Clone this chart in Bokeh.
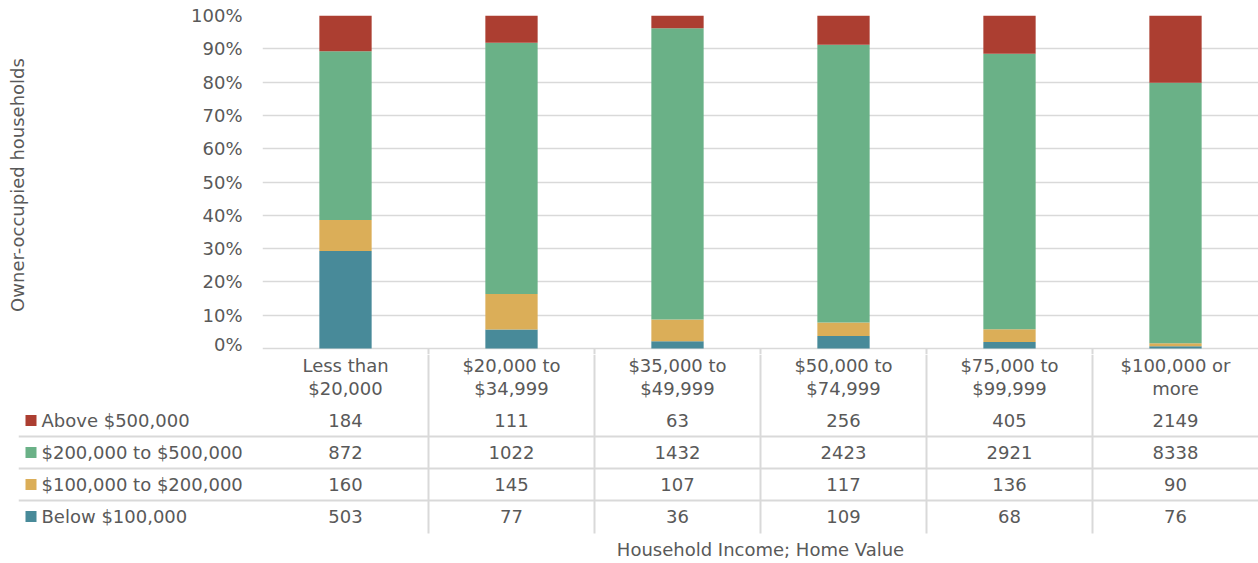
from bokeh.plotting import figure
from bokeh.models import Range1d, FixedTicker, NumeralTickFormatter, ColumnDataSource, Label
from bokeh.embed import file_html
from bokeh.resources import INLINE
from bokeh.core.properties import value

# ---- data ----
categories = ["Less than\n$20,000", "$20,000 to\n$34,999", "$35,000 to\n$49,999",
              "$50,000 to\n$74,999", "$75,000 to\n$99,999", "$100,000 or\nmore"]
series = ["Below $100,000", "$100,000 to $200,000", "$200,000 to $500,000", "Above $500,000"]
below_100k = [503, 77, 36, 109, 68, 76]
from_100k_to_200k = [160, 145, 107, 117, 136, 90]
from_200k_to_500k = [872, 1022, 1432, 2423, 2921, 8338]
above_500k = [184, 111, 63, 256, 405, 2149]
y_ticks = [0, 0.1, 0.2, 0.3, 0.4, 0.5, 0.6, 0.7, 0.8, 0.9, 1.0]

colors = ["#488A99", "#DBAE58", "#6AB187", "#AC3E31"]
FONT = "DejaVu Sans"
TXT = "#595959"
GRID = "#d9d9d9"
FS = "18px"

values = [below_100k, from_100k_to_200k, from_200k_to_500k, above_500k]
n = len(categories)
xs = [i + 0.5 for i in range(n)]
totals = [sum(v[i] for v in values) for i in range(n)]
keys = ["s0", "s1", "s2", "s3"]
data = dict(x=xs)
for k, v in zip(keys, values):
    data[k] = [v[i] / totals[i] for i in range(n)]
src = ColumnDataSource(data)

W = 1258
TOP_H = 354
BOT_H = 209
y_low = -0.018
COL_PX = 166.0

# ---- chart ----
top = figure(width=W, height=TOP_H, x_range=Range1d(0, n), y_range=Range1d(y_low, 1.0),
             x_axis_location=None, toolbar_location=None, output_backend="svg",
             min_border_left=262, min_border_right=0, min_border_top=15, min_border_bottom=0)
top.outline_line_color = None
top.xgrid.visible = False
top.ygrid.grid_line_color = GRID
top.ygrid.grid_line_width = 1.5
top.vbar_stack(keys, x="x", width=0.315, fill_color=colors, line_color=None, source=src)
top.segment(x0=list(range(1, n)), y0=y_low, x1=list(range(1, n)), y1=0,
            line_color=GRID, line_width=2)

ax = top.yaxis[0]
ax.ticker = FixedTicker(ticks=y_ticks)
ax.formatter = NumeralTickFormatter(format="0%")
ax.axis_line_color = None
ax.major_tick_line_color = None
ax.minor_tick_line_color = None
ax.major_tick_in = 0
ax.major_tick_out = 0
ax.major_label_standoff = 20
ax.major_label_text_font = FONT
ax.major_label_text_font_size = FS
ax.major_label_text_color = TXT
ax.axis_label = "Owner-occupied households"
ax.axis_label_text_font = FONT
ax.axis_label_text_font_size = FS
ax.axis_label_text_font_style = "normal"
ax.axis_label_text_color = TXT
ax.axis_label_standoff = 160

# ---- data table ----
left_x = -244 / COL_PX
bot = figure(width=W, height=BOT_H, x_range=Range1d(left_x, n), y_range=Range1d(BOT_H, 0),
             x_axis_location=None, y_axis_location=None, toolbar_location=None,
             output_backend="svg", min_border=0, min_border_left=18)
bot.outline_line_color = None
bot.grid.visible = False

# column separators and row lines
bot.segment(x0=list(range(1, n)), y0=0, x1=list(range(1, n)), y1=179, line_color=GRID, line_width=2)
bot.segment(x0=left_x, y0=[82, 114, 146], x1=n, y1=[82, 114, 146], line_color=GRID, line_width=2)

# header (category labels)
line1 = [c.split("\n")[0] for c in categories]
line2 = [c.split("\n")[1] for c in categories]
for txt, yy in ((line1, 11), (line2, 34)):
    bot.text(x=xs, y=[yy] * n, text=txt, text_align="center", text_baseline="middle",
             text_font=value(FONT), text_font_size=FS, text_color=TXT)

# rows (top to bottom: Above, 200-500, 100-200, Below)
row_y = [162, 130, 98, 66]
for name, vals, col, ry in zip(series, values, colors, row_y):
    bot.text(x=xs, y=[ry] * n, text=[str(v) for v in vals], text_align="center",
             text_baseline="middle", text_font=value(FONT), text_font_size=FS, text_color=TXT)
    bot.scatter(x=[(30.5 - 262) / COL_PX], y=[ry], marker="square", size=11,
                fill_color=col, line_color=None)
    bot.text(x=[(41 - 262) / COL_PX], y=[ry], text=[name], text_align="left",
             text_baseline="middle", text_font=value(FONT), text_font_size=FS, text_color=TXT)

bot.add_layout(Label(x=n / 2, y=195, text="Household Income; Home Value", text_align="center",
                     text_baseline="middle", text_font=FONT, text_font_size=FS, text_color=TXT))

open("out.html", "w").write(file_html([top, bot], INLINE))
